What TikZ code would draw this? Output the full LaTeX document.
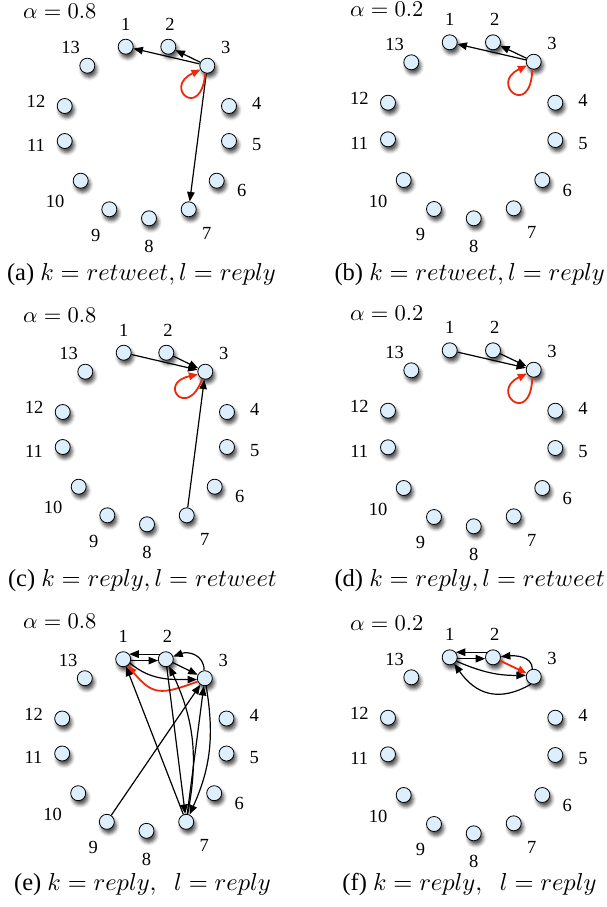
\documentclass[tikz,border=0pt]{standalone}
\usepackage[no-math]{fontspec}
\setmainfont{Liberation Serif}
\usetikzlibrary{arrows.meta,shadows.blur}
\definecolor{nodeblue}{RGB}{221,239,252}
\definecolor{loopred}{RGB}{238,40,12}
\tikzset{
  vtx/.style={circle,draw=black,line width=0.8pt,fill=nodeblue,minimum size=15pt,inner sep=0pt,
     blur shadow={shadow xshift=2pt,shadow yshift=-4pt,shadow blur radius=3.5pt,shadow opacity=70}},
  lbl/.style={inner sep=0pt,font=\fontsize{18.5}{20}\selectfont},
  alab/.style={inner sep=0pt,anchor=base west,scale=2.25,transform shape},
  capst/.style={inner sep=0pt,anchor=base,scale=2.45,transform shape},
  ed/.style={draw=black,line width=1.2pt,-{Triangle[length=9.5pt,width=7.5pt]}},
  redge/.style={draw=loopred,line width=1.8pt,-{Triangle[length=9pt,width=7.5pt]}},
}
\newcommand\Lpts{1/125.7/46.7/0/-22.7, 2/168.3/46.7/1.7/-22.7, 3/207.3/65.7/18.4/-18, 4/229/106/27.7/-2.7, 5/229/141/27.7/4, 6/216.7/180.7/25/10, 7/188.7/209.3/18/23.7, 8/149/218.3/0/28.4, 9/109.3/209.3/-13.6/25.7, 10/80.7/180.7/-25.7/21, 11/64.7/141/-28.7/4, 12/64.7/106/-28.7/-4.3, 13/87.3/65.7/-16.6/-18}
\newcommand\Rpts{1/449.7/42.3/0/-22.7, 2/493/42.3/1.7/-22.7, 3/533.7/61.7/18.4/-18, 4/555.3/102.7/27.7/-2.7, 5/555.3/140/27.7/4, 6/542.3/180/25/10, 7/513.7/208.3/18/23.7, 8/473.7/218.3/0/28.4, 9/434/209/-13.6/25.7, 10/403.7/180/-25.7/21, 11/388/139.3/-28.7/4, 12/388/102.7/-28.7/-4.3, 13/411.3/62.3/-16.6/-18}
\newcommand\drawpanel[4]{%
  \foreach \i/\x/\y/\lx/\ly in #2 {%
    \node[vtx] (#1\i) at ({(\x)+(#3)},{-(\y)-(#4)}) {};
    \node[lbl] (#1l\i) at ({(\x)+(#3)+(\lx)},{-(\y)-(#4)-(\ly)}) {\i};
  }}
\begin{document}
\begin{tikzpicture}[x=1pt,y=1pt]
\useasboundingbox (0,0) rectangle (606,-907);
% (a)
\drawpanel{a}{\Lpts}{0}{0}
\draw[ed] (a3) -- (a1);
\draw[ed] (a3) -- (a2);
\draw[ed] (a3) -- (a7);
\draw[redge] (a3.-105) .. controls +(-95:48) and +(-155:42) .. (a3.-150);
\node[alab] (alpa) at (22.7,-18.3) {$\alpha=0.8$};
\node[capst] (capa) at (141.5,-280) {(a) $k=retweet, l=reply$};
% (b)
\drawpanel{b}{\Rpts}{0}{0}
\draw[ed] (b3) -- (b1);
\draw[ed] (b3) -- (b2);
\draw[redge] (b3.-100) .. controls +(-92:50) and +(-155:42) .. (b3.-150);
\node[alab] (alpb) at (349.7,-16.5) {$\alpha=0.2$};
\node[capst] (capb) at (469.7,-280) {(b) $k=retweet, l=reply$};
% (c)
\drawpanel{c}{\Lpts}{-2}{306}
\draw[ed] (c1) -- (c3);
\draw[ed] (c2) -- (c3);
\draw[ed] (c7) -- (c3);
\draw[redge] (c3.-113) .. controls +(-110:44) and +(-168:42) .. (c3.-160);
\node[alab] (alpc) at (22.7,-322) {$\alpha=0.8$};
\node[capst] (capc) at (142.5,-586.7) {(c) $k=reply, l=retweet$};
% (d)
\drawpanel{d}{\Rpts}{0}{308}
\draw[ed] (d1) -- (d3);
\draw[ed] (d2) -- (d3);
\draw[redge] (d3.-100) .. controls +(-92:50) and +(-155:42) .. (d3.-150);
\node[alab] (alpd) at (349.7,-320.7) {$\alpha=0.2$};
\node[capst] (capd) at (469.7,-586.7) {(d) $k=reply, l=retweet$};
% (e)
\drawpanel{e}{\Lpts}{-2.5}{612.5}
\draw[ed] (e2.140) -- (e1.40);
\draw[ed] (e1.-10) -- (e2.190);
\draw[ed] (e2) -- (e3);
\draw[ed] (e3.95) to[out=90,in=20,looseness=1.2] (e2.20);
\draw[ed] (e1.-30) to[out=-40,in=180] (e3.190);
\draw[redge] (e3.-155) to[out=-160,in=-50,looseness=1.4] (e1.-55);
\draw[ed] (e7) -- (e1);
\draw[ed] (e2) -- (e7);
\draw[ed] (e7) to[bend right=18] (e2);
\draw[ed] (e3) to[bend left=17] (e7);
\draw[ed] (e7) -- (e3);
\draw[ed] (e9) -- (e3);
\node[alab] (alpe) at (22.7,-628.8) {$\alpha=0.8$};
\node[capst] (cape) at (142.5,-890) {(e) $k=reply,\;\;l=reply$};
% (f)
\drawpanel{f}{\Rpts}{0}{615}
\draw[ed] (f2.140) -- (f1.40);
\draw[ed] (f1.-10) -- (f2.190);
\draw[redge] (f2) -- (f3);
\draw[ed] (f3.100) to[out=90,in=5] (f2.5);
\draw[ed] (f1.-30) to[bend right=12] (f3.170);
\draw[ed] (f3.-110) to[out=-150,in=-55,looseness=1.2] (f1.-55);
\node[alab] (alpf) at (349.7,-630.7) {$\alpha=0.2$};
\node[capst] (capf) at (469.5,-890) {(f) $k=reply,\;\;l=reply$};
\end{tikzpicture}
\end{document}
